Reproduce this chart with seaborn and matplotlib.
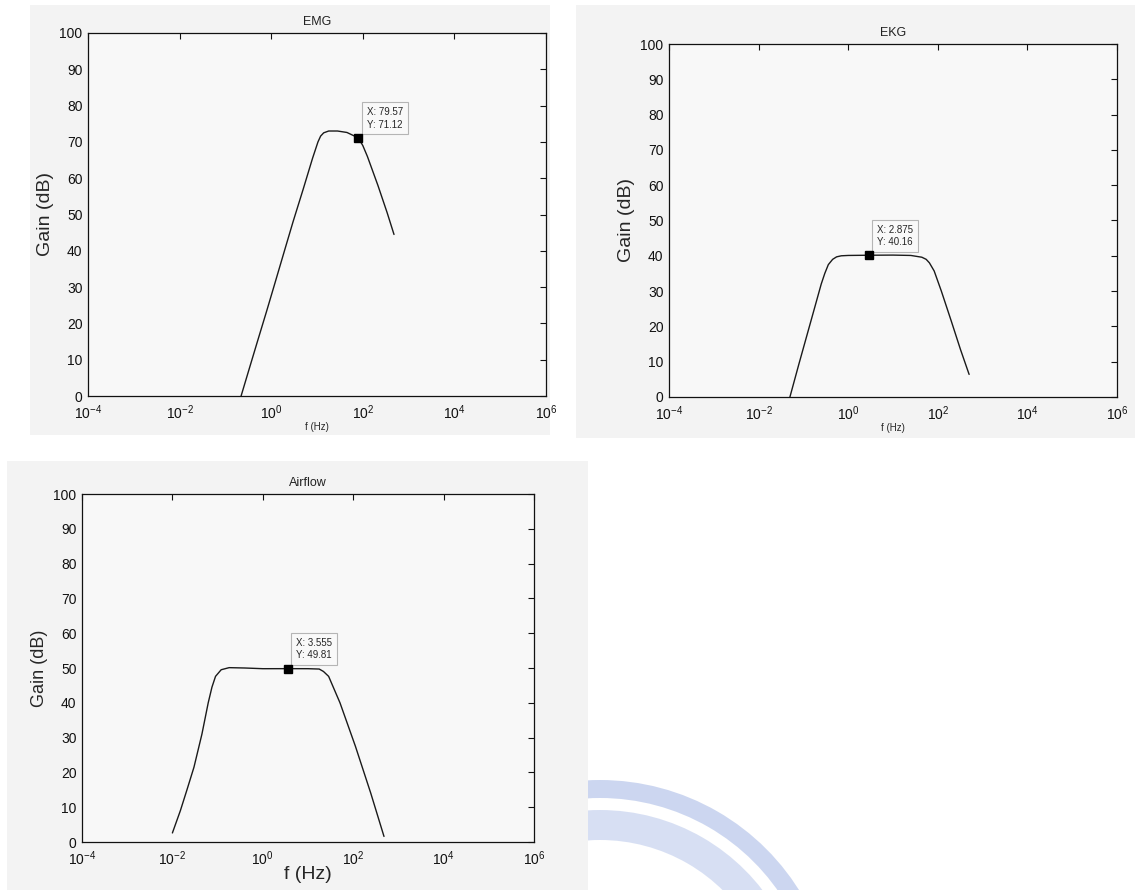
import numpy as np
import pandas as pd
import matplotlib
matplotlib.use("Agg")
import matplotlib.pyplot as plt
import seaborn as sns
from matplotlib.patches import Rectangle, Wedge

# ---- data ----
emg_f = [0.22, 0.35, 0.5, 0.8, 1.2, 2.0, 3.0, 5.0, 8.0, 10.5, 12.0, 14.0, 18.0, 28.0, 45.0, 79.57, 100.0, 126.0, 214.0, 340.0, 480.0]
emg_g = [0.0, 8.5, 15.0, 23.5, 31.0, 40.5, 48.0, 57.0, 65.5, 70.0, 71.6, 72.5, 73.0, 73.0, 72.6, 71.12, 69.0, 66.0, 58.0, 50.5, 44.5]
emg_tip = (79.57, 71.12)

ekg_f = [0.05, 0.08, 0.12, 0.18, 0.25, 0.3, 0.36, 0.45, 0.55, 0.7, 1.0, 2.875, 10.0, 25.0, 44.0, 55.0, 65.0, 83.0, 120.0, 200.0, 320.0, 500.0]
ekg_g = [0.0, 9.5, 17.5, 25.5, 32.0, 35.0, 37.5, 39.0, 39.7, 40.0, 40.1, 40.16, 40.2, 40.1, 39.6, 39.0, 38.0, 35.7, 30.0, 21.5, 13.5, 6.4]
ekg_tip = (2.875, 40.16)

air_f = [0.01, 0.015, 0.021, 0.03, 0.045, 0.062, 0.075, 0.09, 0.12, 0.18, 0.4, 1.0, 3.555, 10.0, 17.7, 22.0, 28.6, 51.0, 112.0, 245.0, 480.0]
air_g = [2.6, 9.0, 15.0, 21.5, 31.0, 40.0, 44.5, 47.6, 49.5, 50.1, 50.0, 49.8, 49.81, 49.8, 49.7, 49.0, 47.6, 40.0, 27.5, 14.0, 1.6]
air_tip = (3.555, 49.81)

titles = ["EMG", "EKG", "Airflow"]
x_ticks = [1e-4, 1e-2, 1e0, 1e2, 1e4, 1e6]
x_ticklabels = [r"$\mathregular{10^{-4}}$", r"$\mathregular{10^{-2}}$", r"$\mathregular{10^{0}}$",
                r"$\mathregular{10^{2}}$", r"$\mathregular{10^{4}}$", r"$\mathregular{10^{6}}$"]
y_ticks = list(range(0, 101, 10))

# ---- style ----
sns.set_theme(style="white")
plt.rcParams["font.family"] = ["Liberation Sans", "DejaVu Sans"]
plt.rcParams["mathtext.fontset"] = "custom"
plt.rcParams["mathtext.rm"] = "Liberation Sans"

W, H = 1135, 890
fig = plt.figure(figsize=(W / 100, H / 100), dpi=100)
fig.patch.set_facecolor("white")

def px_rect(x0, y0, x1, y1, color):
    fig.patches.append(Rectangle((x0 / W, 1 - y1 / H), (x1 - x0) / W, (y1 - y0) / H,
                                 transform=fig.transFigure, facecolor=color,
                                 edgecolor="none", zorder=-10))

panel_gray = "#f3f3f3"
px_rect(30, 5, 550, 435, panel_gray)
px_rect(576, 5, 1135, 438, panel_gray)
px_rect(7, 461, 588, 890, panel_gray)

# faint watermark (logo fragment) at bottom right, pixel coords (origin bottom-left),
# drawn beneath the gray panel so its left part is hidden like in the source
for r_out, w, a in [(235, 18, 0.45), (205, 30, 0.35)]:
    wd = Wedge((600, -125), r_out, 0, 120, width=w, transform=None,
               facecolor="#8fa6de", edgecolor="none", alpha=a, zorder=-20)
    fig.patches.append(wd)

def axes_px(left, top, right, bottom):
    return fig.add_axes([left / W, 1 - bottom / H, (right - left) / W, (bottom - top) / H])

ax_emg = axes_px(88, 33, 546, 396)
ax_ekg = axes_px(669, 44, 1117, 397)
ax_air = axes_px(82, 494, 534, 842)

datasets = [
    (ax_emg, emg_f, emg_g, emg_tip, titles[0], 14, "small"),
    (ax_ekg, ekg_f, ekg_g, ekg_tip, titles[1], 14, "small"),
    (ax_air, air_f, air_g, air_tip, titles[2], 13, "large"),
]

for ax, f, g, tip, title, ylsize, xl in datasets:
    df = pd.DataFrame({"f": f, "gain": g})
    sns.lineplot(data=df, x="f", y="gain", ax=ax, color="#1a1a1a", linewidth=1.0,
                 sort=True, estimator=None)
    ax.set_xscale("log")
    ax.set_xlim(1e-4, 1e6)
    ax.set_ylim(0, 100)
    ax.set_facecolor("#f8f8f8")
    ax.set_xticks(x_ticks)
    ax.set_xticklabels(x_ticklabels)
    ax.xaxis.set_minor_locator(matplotlib.ticker.NullLocator())
    ax.set_yticks(y_ticks)
    ax.set_yticklabels([str(v) for v in y_ticks])
    ax.tick_params(axis="both", which="major", direction="in", length=4, width=0.8,
                   top=True, right=True, labelsize=10, colors="#111111")
    ax.tick_params(axis="x", pad=5)
    ax.tick_params(axis="y", pad=4)
    for s in ax.spines.values():
        s.set_visible(True)
        s.set_color("#111111")
        s.set_linewidth(0.9)
    ax.set_title(title, fontsize=9, pad=6, color="#222222")
    ax.set_ylabel("Gain (dB)", fontsize=ylsize, labelpad=4)
    if xl == "small":
        ax.set_xlabel("f (Hz)", fontsize=7, labelpad=0)
    else:
        ax.set_xlabel("f (Hz)", fontsize=14, labelpad=-1)
    # data tip
    ax.plot([tip[0]], [tip[1]], marker="s", markersize=6, color="black", zorder=5)
    ax.annotate(f"X: {tip[0]:g}\nY: {tip[1]:.2f}", xy=tip, xytext=(6, 6),
                textcoords="offset points", ha="left", va="bottom", fontsize=7,
                linespacing=1.3,
                bbox=dict(boxstyle="square,pad=0.5", facecolor="#f9f9f9",
                          edgecolor="#b5b5b5", linewidth=0.8))

fig.savefig("out.png", dpi=100)
